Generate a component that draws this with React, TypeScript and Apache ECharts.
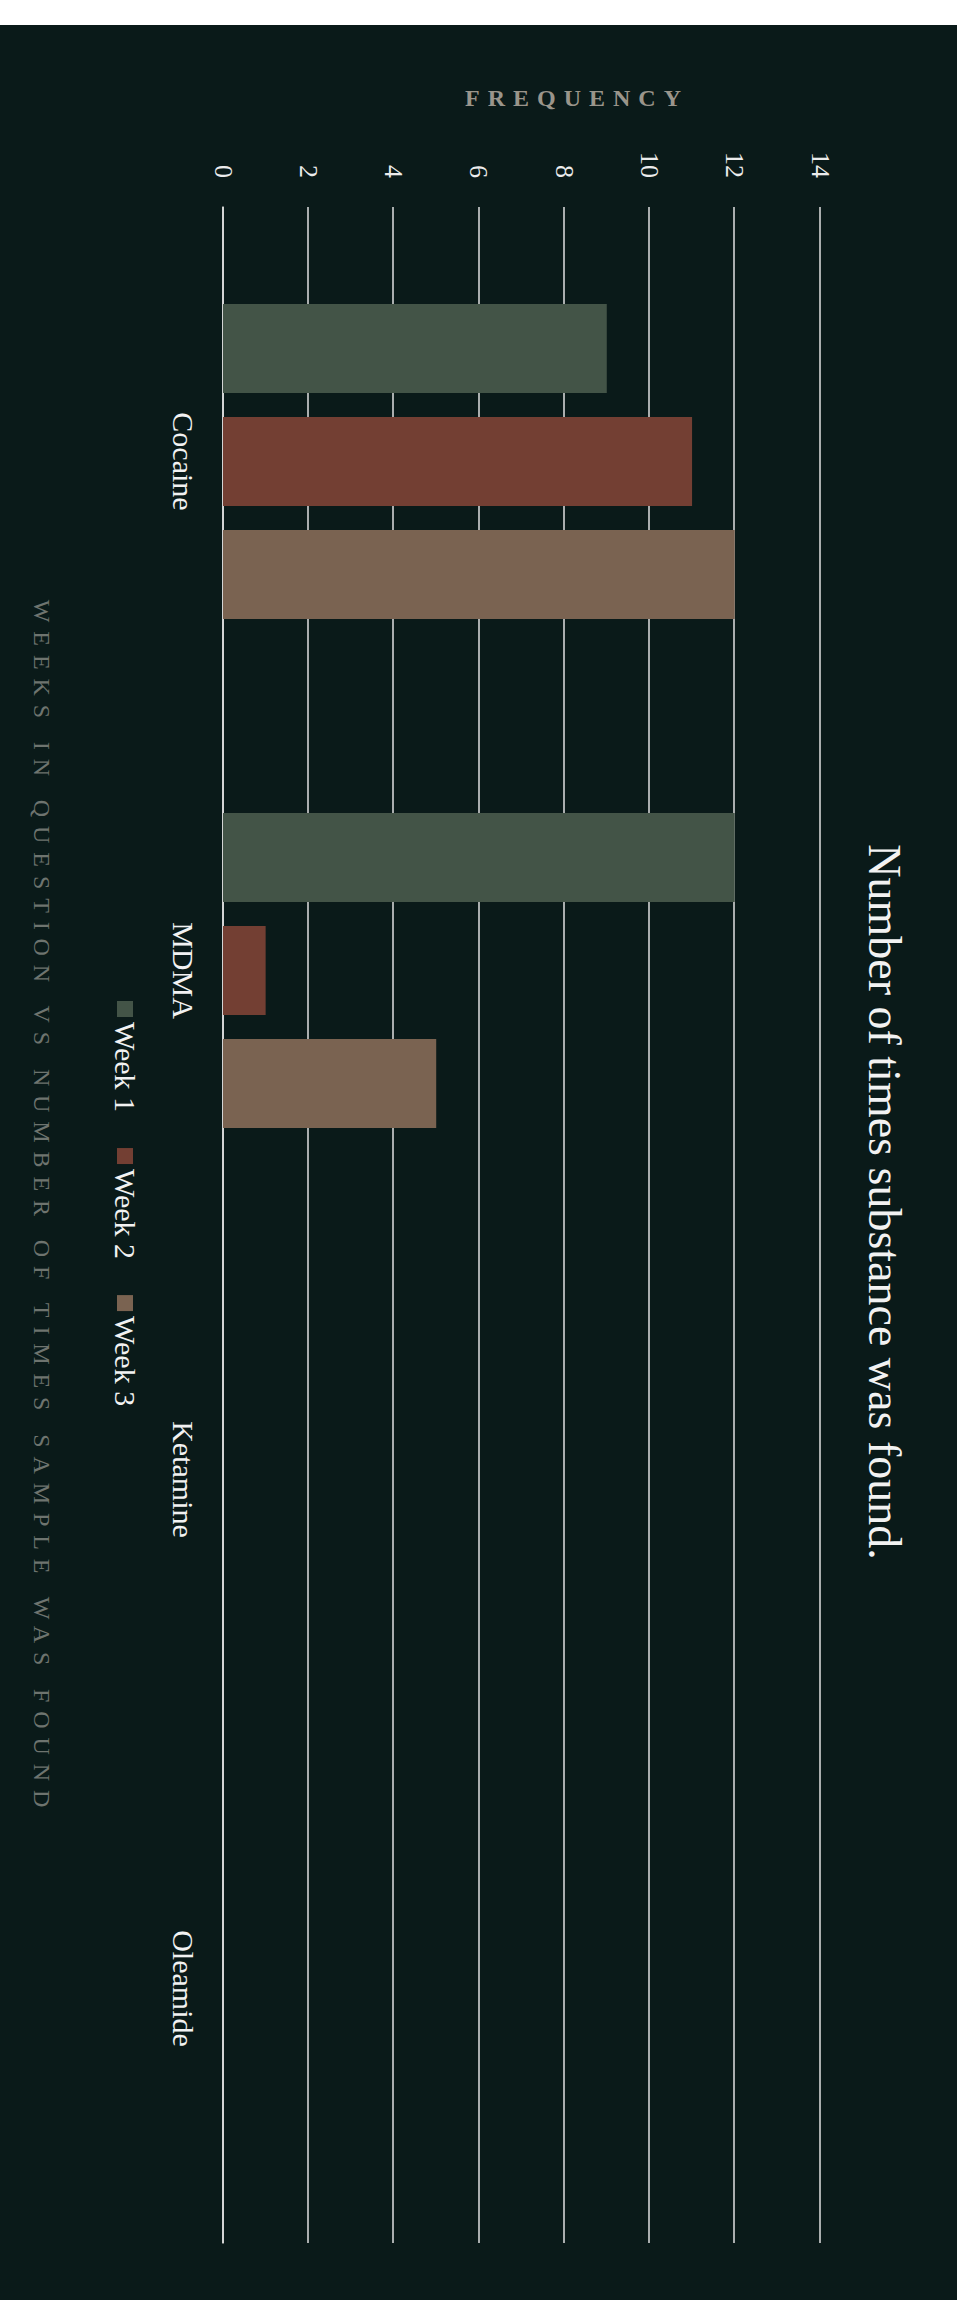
import React, { useEffect, useRef } from "react";
import * as echarts from "echarts";

const categories = ["Cocaine", "MDMA", "Ketamine", "Oleamide"];
const seriesNames = ["Week 1", "Week 2", "Week 3"];
const week1 = [9, 12, 0, 0];
const week2 = [11, 1, 0, 0];
const week3 = [12, 5, 0, 0];
const seriesColors = ["#435447", "#733f33", "#7a6351"];
const valueMin = 0;
const valueMax = 14;
const valueInterval = 2;

const titleText = "Number of times substance was found.";
const valueAxisName = "FREQUENCY";
const categoryAxisName = "WEEKS IN QUESTION VS NUMBER OF TIMES SAMPLE WAS FOUND";

const FONT = "'Liberation Serif', 'Times New Roman', serif";
const BG = "#0a1a19";
const W = 2275;
const H = 957;

export default function App() {
  const ref = useRef<HTMLDivElement>(null);
  useEffect(() => {
    if (!ref.current) return;
    const chart = echarts.init(ref.current, null, { renderer: "svg" });
    const data = [week1, week2, week3];
    chart.setOption({
      animation: false,
      backgroundColor: BG,
      textStyle: { fontFamily: FONT },
      grid: { left: 182, right: 57, top: 137, bottom: 223 },
      legend: {
        data: seriesNames,
        left: 976,
        top: 817,
        padding: 0,
        icon: "rect",
        itemWidth: 16,
        itemHeight: 16,
        itemGap: 36,
        textStyle: { color: "#f2f2f2", fontSize: 30, fontFamily: FONT },
      },
      xAxis: {
        type: "category",
        data: categories,
        axisTick: { show: false },
        axisLine: { show: true, lineStyle: { color: "#e0e0e0", width: 1.5 } },
        axisLabel: {
          color: "#f2f2f2",
          fontSize: 30,
          fontFamily: FONT,
          margin: 40,
          verticalAlign: "middle",
        },
      },
      yAxis: {
        type: "value",
        min: valueMin,
        max: valueMax,
        interval: valueInterval,
        axisLine: { show: false },
        axisTick: { show: false },
        splitLine: { lineStyle: { color: "#e0e0e0", width: 1.5 } },
        axisLabel: { color: "#ececec", fontSize: 26, fontFamily: FONT, margin: 29 },
      },
      series: seriesNames.map((name, i) => ({
        type: "bar",
        name,
        data: data[i],
        barWidth: 89,
        barGap: "27%",
        itemStyle: { color: seriesColors[i] },
      })),
      graphic: [
        {
          type: "text",
          x: 1177,
          y: 73,
          style: {
            text: titleText,
            fill: "#f2f2f2",
            fontSize: 46,
            fontFamily: FONT,
            align: "center",
            verticalAlign: "middle",
          },
        },
        {
          type: "text",
          x: 73,
          y: 380,
          rotation: Math.PI / 2,
          style: {
            text: valueAxisName,
            fill: "#9a958b",
            fontSize: 24,
            fontWeight: "bold",
            fontFamily: FONT,
            align: "center",
            verticalAlign: "middle",
          },
        },
        {
          type: "text",
          x: 1183,
          y: 915,
          style: {
            text: categoryAxisName,
            fill: "#6e746f",
            fontSize: 24,
            fontFamily: FONT,
            align: "center",
            verticalAlign: "middle",
          },
        },
      ],
    });
    const spacing: Record<string, string> = {
      [valueAxisName]: "8",
      [categoryAxisName]: "8.9",
    };
    ref.current.querySelectorAll("text").forEach((t) => {
      const s = spacing[t.textContent || ""];
      if (s) t.setAttribute("letter-spacing", s);
    });
    return () => chart.dispose();
  }, []);
  return (
    <div
      style={{
        position: "absolute",
        left: 0,
        top: 25,
        width: H,
        height: W,
        overflow: "hidden",
        background: BG,
      }}
    >
      <div
        ref={ref}
        style={{
          width: W,
          height: H,
          transform: `translateX(${H}px) rotate(90deg)`,
          transformOrigin: "0 0",
        }}
      />
    </div>
  );
}
